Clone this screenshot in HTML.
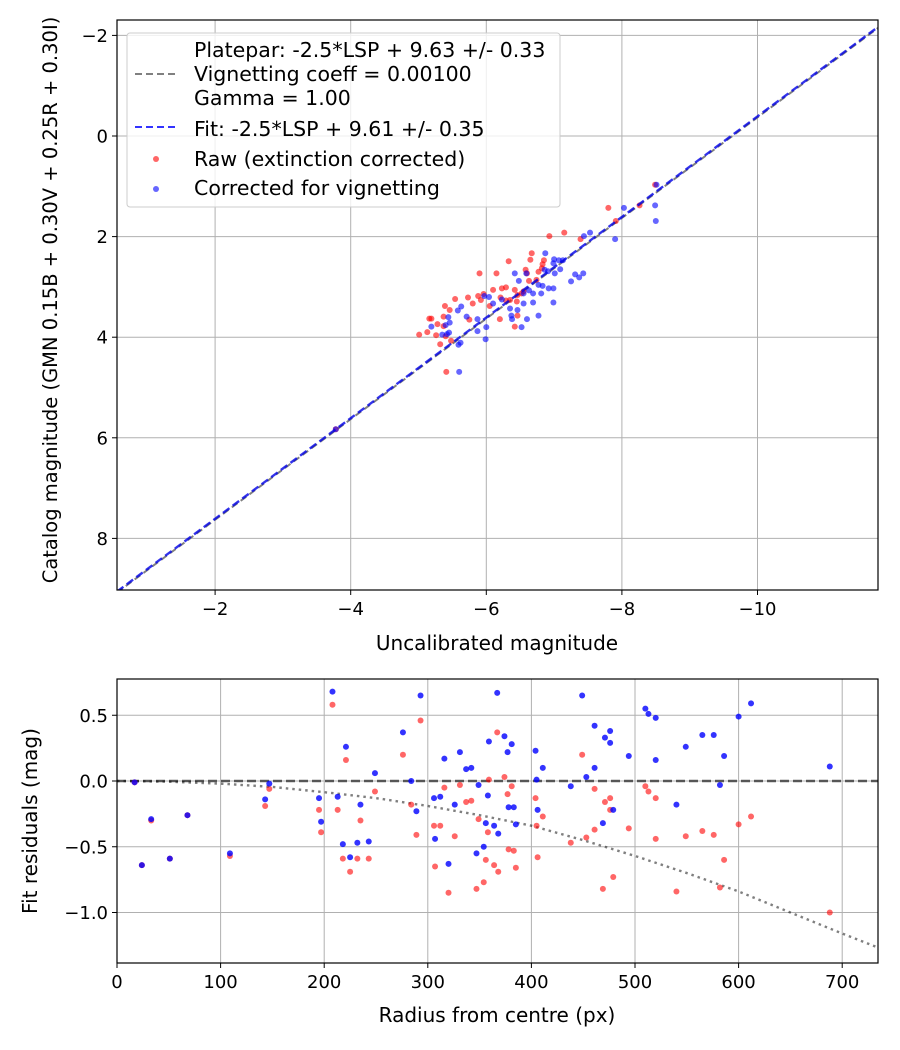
<!DOCTYPE html>
<html><head><meta charset="utf-8">
<style>
body{margin:0;background:#fff;}
svg{display:block;font-family:"DejaVu Sans","Liberation Sans",sans-serif;}
</style></head>
<body>
<svg id="fig" width="900" height="1050" xmlns="http://www.w3.org/2000/svg">
<defs>
<clipPath id="ctop"><rect x="117" y="20" width="761" height="570"/></clipPath>
<clipPath id="cbot"><rect x="117" y="679" width="761" height="284"/></clipPath>
</defs>
<rect width="900" height="1050" fill="#fff"/>
<g id="topPlot"></g>
<g id="botPlot"></g>
</svg>
<script>
// ---- top chart data ----
const rawX=[-8.49,-8.26,-7.80,-7.91,-7.15,-6.93,-7.39,-6.67,-6.65,-6.85,-6.83,-6.33,-6.58,-6.60,-6.77,-6.82,-6.74,-6.63,-5.90,-6.15,-6.10,-6.23,-6.29,-6.42,-6.55,-6.46,-6.35,-6.29,-6.21,-5.96,-5.88,-5.73,-5.54,-5.80,-5.92,-6.05,-5.39,-5.46,-5.16,-5.19,-5.37,-5.28,-5.37,-5.13,-5.01,-5.26,-5.32,-5.48,-5.40,-5.75,-6.20,-6.46,-6.42,-5.41,-6.45,-6.52,-3.78];
const rawY=[0.97,1.38,1.43,1.69,1.92,1.99,2.05,2.33,2.46,2.47,2.55,2.49,2.66,2.73,2.70,2.63,2.86,2.88,2.73,2.73,3.06,3.03,3.01,3.06,3.09,3.16,3.26,3.27,3.21,3.14,3.18,3.21,3.24,3.33,3.26,3.38,3.38,3.46,3.63,3.63,3.59,3.74,3.78,3.90,3.95,3.96,4.14,4.07,3.98,3.65,3.64,3.57,3.79,4.69,3.29,3.13,5.83];
const corX=[-8.51,-8.03,-8.49,-8.50,-7.90,-7.44,-7.53,-6.87,-7.00,-7.07,-7.13,-6.99,-7.09,-7.01,-6.86,-6.91,-7.31,-7.37,-7.43,-7.25,-6.59,-6.42,-6.48,-6.63,-6.55,-6.69,-6.81,-6.83,-6.92,-6.99,-6.77,-6.23,-6.04,-5.97,-6.10,-6.35,-6.37,-6.38,-6.46,-6.55,-6.69,-6.60,-6.77,-6.99,-6.52,-6.00,-5.87,-5.87,-5.71,-5.63,-5.58,-5.44,-5.46,-5.40,-5.35,-5.42,-5.45,-5.62,-5.59,-5.99,-5.60,-5.19,-3.78];
const corY=[0.97,1.43,1.38,1.69,2.05,1.99,1.92,2.33,2.45,2.47,2.47,2.53,2.65,2.73,2.66,2.69,2.75,2.81,2.73,2.89,2.73,2.73,2.88,3.07,3.13,3.13,3.13,2.98,3.03,3.03,2.96,3.25,3.20,3.18,3.33,3.43,3.57,3.64,3.46,3.33,3.31,3.64,3.57,3.31,3.80,3.80,3.88,3.64,3.59,3.39,3.47,3.60,3.71,3.76,3.95,3.94,3.91,4.11,4.15,4.04,4.69,3.79,5.83];
const topXTicks=[-2,-4,-6,-8,-10];
const topYTicks=[-2,0,2,4,6,8];
const fitIntercept=9.61, plateIntercept=9.63;
// ---- bottom chart data ----
const radR=[17,33,68,24,51,109,143,147,208,195,197,221,213,235,218,225,232,243,249,276,284,289,293,316,306,312,307,320,326,331,337,342,349,359,358,367,374,381,377,356,364,368,378,383,385,347,354,404,411,405,406,438,449,461,471,476,476,453,461,469,479,494,510,513,520,520,549,565,540,576,600,612,586,582,688];
const resRaw=[-0.01,-0.30,-0.26,-0.64,-0.59,-0.57,-0.19,-0.06,0.58,-0.22,-0.39,0.16,-0.22,-0.30,-0.59,-0.69,-0.59,-0.59,-0.08,0.20,-0.18,-0.41,0.46,-0.05,-0.34,-0.34,-0.65,-0.85,-0.42,-0.03,-0.16,-0.15,-0.29,0.01,-0.39,0.37,0.03,-0.04,-0.10,-0.60,-0.64,-0.69,-0.52,-0.53,-0.66,-0.82,-0.77,-0.13,-0.27,-0.34,-0.58,-0.47,0.20,-0.06,-0.16,-0.13,-0.22,-0.43,-0.37,-0.82,-0.73,-0.36,-0.04,-0.08,-0.13,-0.44,-0.42,-0.38,-0.84,-0.41,-0.33,-0.27,-0.60,-0.81,-1.00];
const resCor=[-0.01,-0.29,-0.26,-0.64,-0.59,-0.55,-0.14,-0.02,0.68,-0.13,-0.31,0.26,-0.12,-0.18,-0.48,-0.58,-0.47,-0.46,0.06,0.37,0.00,-0.23,0.65,0.17,-0.13,-0.12,-0.44,-0.63,-0.18,0.22,0.09,0.10,-0.03,0.30,-0.11,0.67,0.34,0.28,0.22,-0.32,-0.34,-0.40,-0.20,-0.20,-0.33,-0.55,-0.50,0.23,0.10,0.01,-0.22,-0.04,0.65,0.42,0.33,0.38,0.29,0.03,0.10,-0.32,-0.22,0.19,0.55,0.51,0.48,0.16,0.26,0.35,-0.18,0.35,0.49,0.59,0.19,-0.03,0.11];
const curveR=[0,50,100,150,200,250,300,350,400,450,500,550,600,650,700,734];
const curveV=[0,-0.005,-0.02,-0.045,-0.085,-0.13,-0.19,-0.26,-0.34,-0.45,-0.57,-0.70,-0.84,-1.0,-1.16,-1.265];
const botXTicks=[0,100,200,300,400,500,600,700];
const botYTicks=[0.5,0.0,-0.5,-1.0];

const NS="http://www.w3.org/2000/svg";
function mk(parent,tag,attrs,text){const e=document.createElementNS(NS,tag);for(const k in attrs)e.setAttribute(k,attrs[k]);if(text!==undefined)e.textContent=text;parent.appendChild(e);return e;}
const TF=18, AF=20, LF=20.5, PR=3;

const T={l:117,r:878,t:20,b:590};
const tx=v=>79.5-67.8*v;
const ty=v=>136+50.3*v;
const topG=document.getElementById('topPlot');
topXTicks.forEach(v=>{
  const g=mk(topG,'line',{x1:tx(v),x2:tx(v),y1:T.t,y2:T.b,stroke:'#b0b0b0','stroke-width':1});
  
  
  mk(topG,'line',{x1:tx(v),x2:tx(v),y1:T.b,y2:T.b+5,stroke:'#000'});
  const t=mk(topG,'text',{x:tx(v),y:T.b+25,'text-anchor':'middle','font-size':TF},'\u2212'+Math.abs(v));
  
  
});
topYTicks.forEach(v=>{
  const g=mk(topG,'line',{x1:T.l,x2:T.r,y1:ty(v),y2:ty(v),stroke:'#b0b0b0','stroke-width':1});
  
  
  mk(topG,'line',{x1:T.l-5,x2:T.l,y1:ty(v),y2:ty(v),stroke:'#000'});
  const t=mk(topG,'text',{x:T.l-9,y:ty(v)+6.5,'text-anchor':'end','font-size':TF},(v<0?'\u2212':'')+Math.abs(v));
  
  
});
const tc=mk(topG,'g',{'clip-path':'url(#ctop)'});
const xa=-0.553,xb=-11.78;
const pl=mk(tc,'line',{x1:tx(xa),y1:ty(xa+plateIntercept),x2:tx(xb),y2:ty(xb+plateIntercept),stroke:'#808080','stroke-width':2,'stroke-dasharray':'7,4'});


rawX.forEach((x,i)=>{const c=mk(tc,'circle',{cx:tx(x),cy:ty(rawY[i]),r:PR,fill:'rgba(255,0,0,0.6)'});
  
  });
corX.forEach((x,i)=>{const c=mk(tc,'circle',{cx:tx(x),cy:ty(corY[i]),r:PR,fill:'rgba(0,0,255,0.6)'});
  
  });
const fl=mk(tc,'line',{x1:tx(xa),y1:ty(xa+fitIntercept),x2:tx(xb),y2:ty(xb+fitIntercept),stroke:'rgba(0,0,230,0.8)','stroke-width':2.4,'stroke-dasharray':'8,4'});


mk(topG,'rect',{x:T.l,y:T.t,width:T.r-T.l,height:T.b-T.t,fill:'none',stroke:'#000','stroke-width':1.2});
const lg=mk(topG,'g',{});


mk(lg,'rect',{x:127,y:33,width:433,height:174,rx:3,fill:'rgba(255,255,255,0.8)',stroke:'#ccc'});
mk(lg,'line',{x1:135,x2:178,y1:74,y2:74,stroke:'#808080','stroke-width':2,'stroke-dasharray':'7,4'});
mk(lg,'line',{x1:135,x2:178,y1:127,y2:127,stroke:'rgba(0,0,255,0.8)','stroke-width':2,'stroke-dasharray':'7,4'});
mk(lg,'circle',{cx:156,cy:159,r:PR,fill:'rgba(255,0,0,0.6)'});
mk(lg,'circle',{cx:156,cy:189,r:PR,fill:'rgba(0,0,255,0.6)'});
[['Platepar: -2.5*LSP + 9.63 +/- 0.33',57],['Vignetting coeff = 0.00100',81],['Gamma = 1.00',105],['Fit: -2.5*LSP + 9.61 +/- 0.35',136],['Raw (extinction corrected)',166],['Corrected for vignetting',195]].forEach(a=>{
  const t=mk(lg,'text',{x:194,y:a[1],'font-size':LF},a[0]);
  
  
});
const xl=mk(topG,'text',{x:497,y:650,'text-anchor':'middle','font-size':AF},'Uncalibrated magnitude');


const yl=mk(topG,'text',{x:0,y:0,'text-anchor':'middle','font-size':19.5,transform:'translate(57,300) rotate(-90)'},'Catalog magnitude (GMN 0.15B + 0.30V + 0.25R + 0.30I)');



const B={l:117,r:878,t:679,b:963};
const bx=v=>117+1.036*v;
const by=v=>781-131.5*v;
const botG=document.getElementById('botPlot');
botXTicks.forEach(v=>{
  const g=mk(botG,'line',{x1:bx(v),x2:bx(v),y1:B.t,y2:B.b,stroke:'#b0b0b0'});
  
  
  mk(botG,'line',{x1:bx(v),x2:bx(v),y1:B.b,y2:B.b+5,stroke:'#000'});
  const t=mk(botG,'text',{x:bx(v),y:B.b+25,'text-anchor':'middle','font-size':TF},String(v));
  
  
});
botYTicks.forEach(v=>{
  const g=mk(botG,'line',{x1:B.l,x2:B.r,y1:by(v),y2:by(v),stroke:'#b0b0b0'});
  
  
  mk(botG,'line',{x1:B.l-5,x2:B.l,y1:by(v),y2:by(v),stroke:'#000'});
  const t=mk(botG,'text',{x:B.l-9,y:by(v)+6.5,'text-anchor':'end','font-size':TF},(v<0?'\u2212':'')+Math.abs(v).toFixed(1));
  
  
});
const bc=mk(botG,'g',{'clip-path':'url(#cbot)'});
const zl=mk(bc,'line',{x1:B.l,x2:B.r,y1:by(0),y2:by(0),stroke:'rgba(0,0,0,0.6)','stroke-width':2.4,'stroke-dasharray':'9,4'});


const cv=mk(bc,'polyline',{points:curveR.map((r,i)=>bx(r)+','+by(curveV[i])).join(' '),fill:'none',stroke:'rgba(0,0,0,0.5)','stroke-width':2.4,'stroke-dasharray':'2.5,4'});


radR.forEach((r,i)=>{const c=mk(bc,'circle',{cx:bx(r),cy:by(resRaw[i]),r:PR,fill:'rgba(255,0,0,0.6)'});
  
  });
radR.forEach((r,i)=>{const c=mk(bc,'circle',{cx:bx(r),cy:by(resCor[i]),r:PR,fill:'rgba(0,0,255,0.8)'});
  
  });
mk(botG,'rect',{x:B.l,y:B.t,width:B.r-B.l,height:B.b-B.t,fill:'none',stroke:'#000','stroke-width':1.2});
const xl2=mk(botG,'text',{x:497,y:1022,'text-anchor':'middle','font-size':AF},'Radius from centre (px)');


const yl2=mk(botG,'text',{x:0,y:0,'text-anchor':'middle','font-size':AF,transform:'translate(37,821) rotate(-90)'},'Fit residuals (mag)');


</script>
</body></html>
